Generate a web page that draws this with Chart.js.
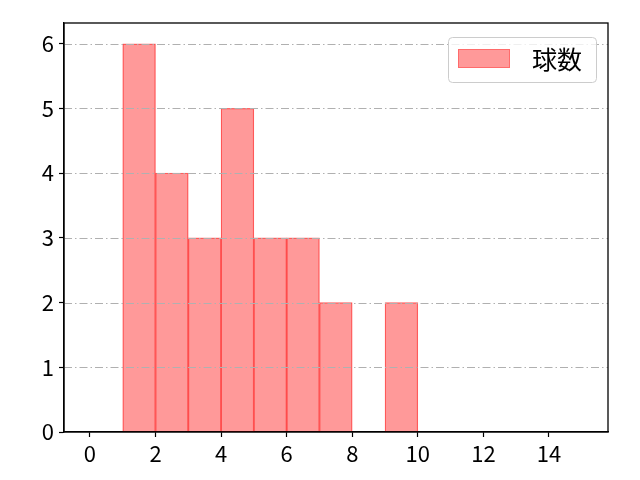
<!DOCTYPE html>
<html>
<head>
<meta charset="utf-8">
<script src="https://cdn.jsdelivr.net/npm/chart.js@4"></script>
<style>
  body { margin: 0; background: #fff; }
  #wrap { width: 640px; height: 480px; }
</style>
</head>
<body>
<div id="wrap"><canvas id="chart"></canvas></div>
<script>
// Histogramm-Daten (Klassenmitten und Häufigkeiten)
const binCenters = [1.5, 2.5, 3.5, 4.5, 5.5, 6.5, 7.5, 8.5, 9.5];
const counts = [6, 4, 3, 5, 3, 3, 2, 0, 2];
const xTicks = [0, 2, 4, 6, 8, 10, 12, 14];
const yTicks = [0, 1, 2, 3, 4, 5, 6];
const seriesLabel = "球数";

Chart.defaults.font.family = '"Noto Sans CJK JP", "Noto Sans", sans-serif';
Chart.defaults.color = "#000";

// Gitterlinien, Rahmen und Legende selber zeichnen (wie matplotlib)
const extras = {
  id: "extras",
  afterDatasetsDraw(chart) {
    const { ctx, chartArea: a, scales } = chart;
    ctx.save();
    // strichpunktierte Gitterlinien über den Balken
    ctx.strokeStyle = "#b0b0b0";
    ctx.lineWidth = 1;
    ctx.setLineDash([8, 3, 1.5, 3]);
    yTicks.forEach((v) => {
      if (v === 0) return;
      const y = Math.round(scales.y.getPixelForValue(v)) + 0.5;
      ctx.beginPath();
      ctx.moveTo(a.left, y);
      ctx.lineTo(a.right, y);
      ctx.stroke();
    });
    ctx.setLineDash([]);
    // Rahmen
    ctx.strokeStyle = "#000";
    ctx.lineWidth = 1.3;
    ctx.strokeRect(a.left, a.top, a.right - a.left, a.bottom - a.top);
    // Legende oben rechts
    const w = 148, h = 45;
    const lx = a.right - 12 - w, ly = a.top + 14;
    ctx.fillStyle = "rgba(255,255,255,0.8)";
    ctx.strokeStyle = "#cccccc";
    ctx.lineWidth = 1;
    ctx.beginPath();
    ctx.roundRect(lx + 0.5, ly + 0.5, w, h, 4);
    ctx.fill();
    ctx.stroke();
    ctx.fillStyle = "rgba(255,0,0,0.4)";
    ctx.strokeStyle = "rgba(255,0,0,0.3)";
    ctx.fillRect(lx + 10, ly + 12, 52, 19);
    ctx.strokeRect(lx + 10.5, ly + 12.5, 51, 18);
    ctx.fillStyle = "#000";
    ctx.font = '25px "Noto Sans CJK JP", sans-serif';
    ctx.textBaseline = "middle";
    ctx.fillText(seriesLabel, lx + 84, ly + 22);
    ctx.restore();
  },
};

const canvas = document.querySelector("#chart");
const ctx = canvas.getContext("2d");

new Chart(ctx, {
  type: "bar",
  data: {
    datasets: [
      {
        label: seriesLabel,
        data: binCenters.map((c, i) => ({ x: c, y: counts[i] })),
        backgroundColor: "rgba(255,0,0,0.4)",
        borderColor: "rgba(255,0,0,0.55)",
        borderWidth: 0.6,
        barPercentage: 1,
        categoryPercentage: 1,
      },
    ],
  },
  options: {
    responsive: true,
    maintainAspectRatio: false,
    devicePixelRatio: 1,
    animation: false,
    layout: { padding: { top: 23, right: 32, left: 0, bottom: 0 } },
    scales: {
      x: {
        type: "linear",
        offset: false,
        min: -0.79,
        max: 15.8,
        afterBuildTicks: (s) => { s.ticks = xTicks.map((v) => ({ value: v })); },
        afterFit: (s) => { s.height = 48; },
        ticks: { font: { size: 22 }, color: "#000", padding: 3, maxRotation: 0 },
        grid: { offset: false, drawOnChartArea: false, tickLength: 5, tickColor: "#000", tickWidth: 1.2 },
        border: { color: "#000", width: 1.3 },
      },
      y: {
        min: 0,
        max: 6.32,
        afterBuildTicks: (s) => { s.ticks = yTicks.map((v) => ({ value: v })); },
        afterFit: (s) => { s.width = 64; },
        ticks: { font: { size: 22 }, color: "#000", padding: 5 },
        grid: { drawOnChartArea: false, tickLength: 5, tickColor: "#000", tickWidth: 1.2 },
        border: { color: "#000", width: 1.3 },
      },
    },
    plugins: {
      legend: { display: false },
      tooltip: { enabled: false },
    },
  },
  plugins: [extras],
});
</script>
</body>
</html>
